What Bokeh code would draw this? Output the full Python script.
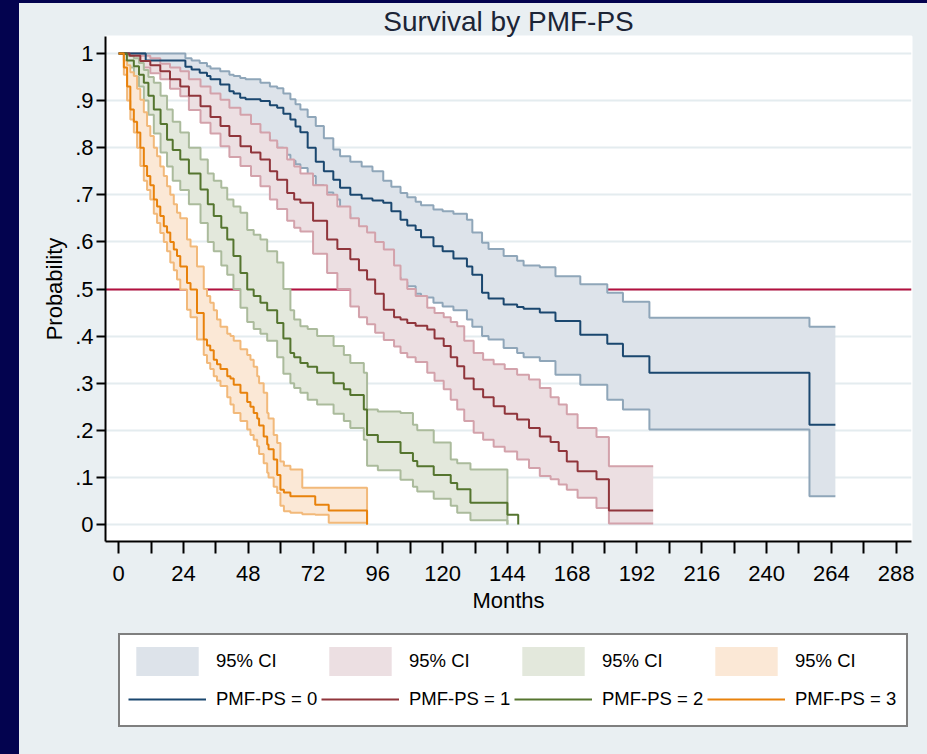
from bokeh.plotting import figure
from bokeh.layouts import column
from bokeh.models import (ColumnDataSource, FixedTicker, Legend, LegendItem,
                          Range1d, GlobalInlineStyleSheet)
from bokeh.embed import file_html
from bokeh.resources import INLINE

TITLE = "Survival by PMF-PS"
X_LABEL = "Months"
Y_LABEL = "Probability"
CI_LABEL = "95% CI"
GROUPS = ["PMF-PS = 0", "PMF-PS = 1", "PMF-PS = 2", "PMF-PS = 3"]

x_ticks = [0, 24, 48, 72, 96, 120, 144, 168, 192, 216, 240, 264, 288]
x_minor = [12, 36, 60, 84, 108, 132, 156, 180, 204, 228, 252, 276]
y_ticks = [0, 0.1, 0.2, 0.3, 0.4, 0.5, 0.6, 0.7, 0.8, 0.9, 1.0]
y_tick_labels = ["0", ".1", ".2", ".3", ".4", ".5", ".6", ".7", ".8", ".9", "1"]
ref_y = 0.5

# PMF-PS = 0
t0 = [0, 10, 13, 17.9, 21, 24.7, 27, 30, 32.7, 34, 37.6, 41, 42.6, 45, 47, 52.5, 56, 58.7, 61, 63.6,
      65.5, 67.3, 70, 73, 76, 79.5, 82, 85.8, 90, 94, 98, 101, 104.4, 106.9, 110, 112, 116.6, 120, 124, 129,
      131, 134.6, 137, 142.6, 147.6, 150, 156, 161.8, 171, 181, 186.8, 196.6, 255.9, 265.5]
s0 = [1, .985, .985, .985, .985, .972, .966, .959, .952, .945, .934, .920, .915, .906, .903, .899, .890, .885, .872, .860,
      .845, .833, .800, .770, .750, .732, .715, .700, .692, .688, .683, .665, .647, .635, .625, .610, .591, .580, .565, .548,
      .530, .492, .480, .467, .462, .458, .450, .432, .403, .384, .357, .322, .212, .212]
lo0 = [1, .975, .968, .960, .950, .935, .925, .912, .895, .885, .868, .855, .846, .840, .835, .825, .810, .800, .785, .772,
       .765, .757, .740, .720, .705, .690, .660, .619, .585, .560, .548, .525, .515, .506, .490, .482, .471, .463, .455, .435,
       .420, .400, .393, .375, .364, .355, .347, .318, .297, .265, .244, .202, .060, .060]
hi0 = [1, 1, 1, 1, 1, .990, .985, .980, .973, .968, .962, .955, .952, .948, .945, .938, .930, .926, .915, .903,
       .892, .881, .865, .846, .820, .796, .782, .770, .760, .750, .730, .717, .704, .695, .685, .678, .669, .665, .660, .647,
       .620, .598, .585, .570, .560, .550, .546, .527, .510, .492, .473, .439, .420, .420]

# PMF-PS = 1
t1 = [0, 4, 8, 11.7, 15.4, 19, 22.8, 26, 30.3, 34, 37.7, 41, 45.1, 49, 52.5, 56, 58.7, 62.4, 65, 67.3,
      72, 77.2, 81, 85.8, 89, 92, 95, 98.2, 102, 104.4, 106.9, 110, 114.3, 117, 120.4, 123, 125.4, 128, 131.5, 135,
      138.9, 143, 147.6, 152, 156, 160, 163, 166, 170, 177, 181.6, 198]
s1 = [1, .995, .984, .975, .962, .945, .930, .910, .888, .865, .846, .825, .803, .790, .775, .750, .732, .704, .690, .683,
      .645, .605, .585, .563, .540, .520, .490, .456, .440, .435, .428, .422, .414, .395, .379, .355, .336, .310, .287, .270,
      .251, .235, .223, .205, .187, .175, .156, .134, .113, .096, .030, .030]
lo1 = [1, .985, .970, .958, .945, .925, .909, .880, .853, .830, .803, .780, .761, .740, .718, .690, .670, .645, .630, .622,
       .575, .534, .500, .463, .440, .425, .407, .392, .378, .364, .355, .345, .322, .305, .287, .265, .244, .220, .195, .180,
       .165, .155, .138, .120, .103, .096, .085, .074, .057, .035, .002, .002]
hi1 = [1, 1, .995, .990, .978, .970, .962, .945, .930, .915, .902, .885, .870, .850, .832, .815, .800, .775, .760, .745,
       .720, .700, .675, .650, .633, .620, .600, .584, .550, .520, .500, .485, .460, .449, .440, .430, .421, .390, .364, .350,
       .340, .330, .318, .308, .290, .270, .255, .234, .205, .186, .124, .124]

# PMF-PS = 2 (confidence band ends at 144 months)
t2 = [0, 3, 5.6, 7.5, 9.3, 11, 13, 15.5, 17.9, 20, 22.8, 26, 30.3, 33, 35.2, 38, 40.2, 42.5, 45.1, 47.6,
      50, 52.5, 55, 58.7, 61, 63.6, 65, 67.3, 70, 73.5, 79.6, 83.4, 85.8, 90.8, 92, 96, 104.4, 109, 110.6, 116.7,
      123, 125.4, 130.3, 144, 148]
s2 = [1, .985, .973, .955, .938, .910, .881, .850, .817, .795, .775, .745, .711, .680, .655, .630, .605, .570, .534, .499,
      .485, .471, .455, .428, .395, .364, .355, .343, .335, .322, .300, .287, .275, .244, .190, .175, .152, .135, .124, .105,
      .088, .075, .046, .021, 0.0]
lo2 = [1, .970, .950, .930, .900, .870, .830, .790, .760, .730, .710, .680, .640, .600, .580, .550, .530, .500, .460, .430,
       .415, .405, .390, .355, .320, .300, .290, .280, .265, .255, .235, .220, .205, .180, .125, .115, .095, .080, .070, .055,
       .040, .025, .009, 0.0]
hi2 = [1, .995, .990, .980, .965, .950, .938, .910, .881, .855, .832, .800, .775, .745, .730, .715, .690, .675, .662, .625,
       .615, .605, .580, .556, .500, .455, .435, .421, .415, .400, .379, .360, .343, .322, .244, .240, .237, .212, .200, .174,
       .138, .130, .117, 0.0]

# PMF-PS = 3
t3 = [0, 1.9, 3.1, 4.3, 5.6, 6.8, 8, 9.3, 10.5, 11.7, 13, 14.2, 15.4, 16.7, 17.9, 19.1, 20.4, 21.6, 22.8, 25.3,
      26.6, 29, 31.5, 32.7, 33.9, 35.2, 36.4, 37.7, 40.2, 41.4, 42.6, 45.1, 47.6, 48.8, 50, 51.3, 52, 53.7, 55, 55.5,
      57.4, 58.7, 59.9, 61.2, 63.6, 68, 72.8, 77.8, 92]
s3 = [1, .970, .930, .881, .855, .832, .800, .761, .740, .720, .690, .675, .655, .633, .620, .600, .584, .570, .548, .513,
      .499, .449, .393, .380, .370, .350, .340, .330, .315, .310, .297, .280, .260, .250, .237, .225, .210, .187, .170, .160,
      .138, .105, .074, .068, .060, .060, .042, .030, 0.0]
lo3 = [1, .955, .900, .860, .832, .800, .761, .730, .710, .690, .660, .640, .619, .600, .580, .556, .540, .520, .499, .456,
       .440, .393, .360, .343, .330, .315, .305, .294, .270, .255, .237, .220, .202, .190, .180, .166, .150, .130, .110, .100,
       .080, .067, .040, .028, .025, .022, .021, .004, 0.0]
hi3 = [1, .985, .975, .960, .952, .925, .902, .875, .846, .825, .800, .782, .760, .740, .718, .700, .680, .662, .650, .605,
       .590, .548, .500, .485, .471, .455, .435, .420, .405, .400, .390, .372, .360, .350, .335, .315, .300, .280, .237, .225,
       .190, .173, .134, .125, .117, .078, .078, .078, 0.0]

line_colors = ["#1a476f", "#90353b", "#55752f", "#e8820c"]
band_fills = ["#dde3ea", "#ecdfe2", "#e3e8dc", "#fbe8d6"]
band_edges = ["#8fa6b9", "#d3a2ab", "#abbb9c", "#f2b97a"]

PANEL = "#e9eff2"
NAVY = "#03034f"
FONT = "Liberation Sans"

# navy page with the light chart panel inset (top 3px, left 19px)
page_css = GlobalInlineStyleSheet(css=(
    f"html {{ background: {NAVY} !important; margin: 0 !important; padding: 0 !important; "
    "height: 100% !important; overflow: hidden !important; } "
    f"body {{ background: {PANEL} !important; margin: 3px 0 0 19px !important; padding: 0 !important; "
    "height: calc(100% - 3px) !important; overflow: hidden !important; box-sizing: border-box; }"
))

data = [(t0, s0, lo0, hi0), (t1, s1, lo1, hi1), (t2, s2, lo2, hi2), (t3, s3, lo3, hi3)]

# ---------------- main chart ----------------
p = figure(frame_width=806, frame_height=505, output_backend="svg", toolbar_location=None,
           x_range=Range1d(-4.9, 293.7), y_range=Range1d(-0.036, 1.036),
           min_border_left=86, min_border_right=16, min_border_top=30, min_border_bottom=85,
           background_fill_color="white", border_fill_color=PANEL, title=TITLE)
p.outline_line_color = "white"
p.outline_line_width = 2
p.stylesheets = [page_css]

p.title.align = "center"
p.title.text_font = FONT
p.title.text_font_size = "28px"
p.title.text_font_style = "normal"
p.title.text_color = "#1b2436"
p.title.standoff = 0

p.xaxis.ticker = FixedTicker(ticks=x_ticks, minor_ticks=x_minor)
p.yaxis.ticker = FixedTicker(ticks=y_ticks, minor_ticks=[])
p.yaxis.major_label_overrides = dict(zip(y_ticks, y_tick_labels))
p.xaxis.axis_label = X_LABEL
p.yaxis.axis_label = Y_LABEL
for ax in (p.xaxis[0], p.yaxis[0]):
    ax.axis_line_color = "black"
    ax.axis_line_width = 2
    ax.major_tick_line_color = "black"
    ax.major_tick_line_width = 2
    ax.minor_tick_line_color = "black"
    ax.minor_tick_line_width = 2
    ax.major_tick_in = 0
    ax.minor_tick_in = 0
    ax.major_label_text_font = FONT
    ax.major_label_text_font_size = "22px"
    ax.major_label_text_color = "black"
    ax.axis_label_text_font = FONT
    ax.axis_label_text_font_size = "22px"
    ax.axis_label_text_font_style = "normal"
    ax.axis_label_text_color = "black"
p.xaxis.major_tick_out = 12
p.xaxis.minor_tick_out = 12
p.xaxis.major_label_standoff = 12
p.xaxis.axis_label_standoff = 4
p.yaxis.major_tick_out = 9
p.yaxis.minor_tick_out = 0
p.yaxis.major_label_standoff = 3
p.yaxis.axis_label_standoff = 5

p.xgrid.visible = False
p.ygrid.grid_line_color = "#e4ecef"
p.ygrid.grid_line_width = 2

# reference line at .5 (drawn under the bands)
p.hspan(y=[ref_y], line_color="#b3103e", line_width=2)

for i, (t, s, lo, hi) in enumerate(data):
    src = ColumnDataSource(dict(t=t[:len(lo)], lo=lo, hi=hi))
    p.varea_step(x="t", y1="lo", y2="hi", step_mode="after", source=src,
                 fill_color=band_fills[i], fill_alpha=1)
    p.step(x="t", y="lo", mode="after", source=src, line_color=band_edges[i], line_width=2)
    p.step(x="t", y="hi", mode="after", source=src, line_color=band_edges[i], line_width=2)

for i, (t, s, lo, hi) in enumerate(data):
    src = ColumnDataSource(dict(t=t, s=s))
    p.step(x="t", y="s", mode="after", source=src, line_color=line_colors[i], line_width=2)

# ---------------- legend strip below the chart ----------------
# it carries the same series as key renderers; its ranges keep them out of view
leg = figure(width=908, height=140, output_backend="svg", toolbar_location=None,
             x_range=Range1d(-30, -20), y_range=Range1d(-30, -20),
             x_axis_location=None, y_axis_location=None,
             min_border=0, background_fill_color=PANEL, border_fill_color=PANEL)
leg.outline_line_color = PANEL
leg.outline_line_width = 3
leg.grid.visible = False

band_keys, line_keys = [], []
for i, (t, s, lo, hi) in enumerate(data):
    band_keys.append(leg.varea_step(x=t[:len(lo)], y1=lo, y2=hi, step_mode="after",
                                    fill_color=band_fills[i], fill_alpha=1))
for i, (t, s, lo, hi) in enumerate(data):
    line_keys.append(leg.step(x=t, y=s, mode="after", line_color=line_colors[i], line_width=2))

items = [LegendItem(label=CI_LABEL, renderers=[r]) for r in band_keys]
items += [LegendItem(label=g, renderers=[r]) for g, r in zip(GROUPS, line_keys)]

legend = Legend(items=items, orientation="horizontal", ncols=4, location=(13, 39),
                glyph_width=78, glyph_height=36, label_standoff=10, label_width=103,
                label_height=20, spacing=2, padding=8, margin=0,
                label_text_font=FONT, label_text_font_size="18.5px", label_text_color="black",
                border_line_color="black", border_line_width=2,
                background_fill_color="white", background_fill_alpha=1)
leg.add_layout(legend)

page = column(p, leg, spacing=0)

open("out.html", "w").write(file_html(page, INLINE))
